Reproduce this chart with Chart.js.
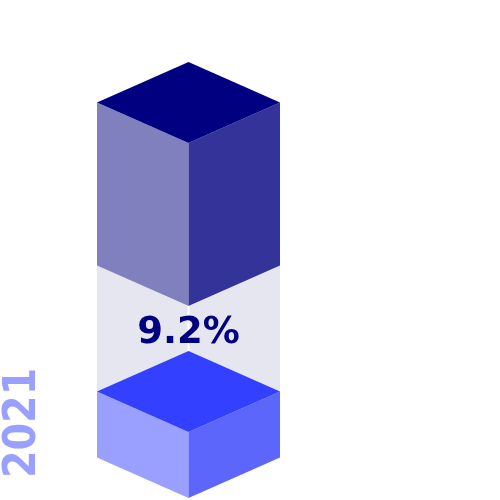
<!DOCTYPE html>
<html>
<head>
<meta charset="utf-8">
<script src="https://cdn.jsdelivr.net/npm/chart.js@4"></script>
<style>
  html, body { margin: 0; padding: 0; background: #fff; }
  #chart { display: block; }
</style>
</head>
<body>
<canvas id="chart" width="500" height="500"></canvas>
<script>
// data
const categories = ['2021'];
const lowerValues = [18.6];
const gapValues = [35.5];
const upperValues = [45.9];
const gapLabels = ['9.2%'];

// face colours for each stacked segment
const cubeColors = {
    lower: { top: '#3340ff', left: '#99a0ff', right: '#5c66fa' },
    gap: { left: '#e6e6f0', right: '#e6e6f0' },
    upper: { top: '#000080', left: '#8080bf', right: '#333399' }
};

function poly(ctx, pts, color) {
    ctx.beginPath();
    ctx.moveTo(pts[0][0], pts[0][1]);
    for (let i = 1; i < pts.length; i++) ctx.lineTo(pts[i][0], pts[i][1]);
    ctx.closePath();
    ctx.fillStyle = color;
    ctx.fill();
}

function drawCube(ctx, x, top, bottom, half, d, colors, split) {
    const s = split || 0;
    poly(ctx, [[x - half, top - d], [x - s, top], [x - s, bottom], [x - half, bottom - d]], colors.left);
    poly(ctx, [[x + s, top], [x + half, top - d], [x + half, bottom - d], [x + s, bottom]], colors.right);
    if (colors.top) {
        poly(ctx, [[x, top], [x - half, top - d], [x, top - 2 * d], [x + half, top - d]], colors.top);
    }
}

const isoPlugin = {
    id: 'isoCubes',
    afterDatasetsDraw(chart) {
        const ctx = chart.ctx;
        const keys = ['lower', 'gap', 'upper'];
        // gap faces go behind, then the two cubes
        const order = [1, 0, 2];
        ctx.save();
        order.forEach(i => {
            const meta = chart.getDatasetMeta(i);
            meta.data.forEach((bar, j) => {
                const p = bar.getProps(['x', 'y', 'base', 'width'], true);
                const half = p.width / 2;
                const d = half * 0.443;
                const key = keys[i];
                drawCube(ctx, p.x, p.y, p.base, half, d, cubeColors[key], key === 'gap' ? 1 : 0);
            });
        });

        // percentage label in the gap
        const gapMeta = chart.getDatasetMeta(1);
        gapMeta.data.forEach((bar, j) => {
            const p = bar.getProps(['x', 'y', 'base', 'width'], true);
            const d = p.width / 2 * 0.443;
            ctx.font = 'bold 37px "DejaVu Sans", Verdana, sans-serif';
            ctx.fillStyle = '#000080';
            ctx.textAlign = 'center';
            ctx.textBaseline = 'alphabetic';
            ctx.fillText(gapLabels[j], p.x, (p.y + p.base) / 2 - d + 15);
        });

        // category label, rotated
        const area = chart.chartArea;
        ctx.translate(35, area.bottom - 20);
        ctx.rotate(-Math.PI / 2);
        ctx.font = 'bold 44px "DejaVu Sans Condensed", "DejaVu Sans", sans-serif';
        ctx.fillStyle = '#99a0ff';
        ctx.textAlign = 'left';
        ctx.textBaseline = 'alphabetic';
        ctx.fillText(categories[0], 0, 0);
        ctx.restore();
    }
};

const transparent = 'rgba(0,0,0,0)';

new Chart(document.getElementById('chart'), {
    type: 'bar',
    data: {
        labels: categories,
        datasets: [
            { label: 'lower', data: lowerValues, backgroundColor: transparent },
            { label: 'gap', data: gapValues, backgroundColor: transparent },
            { label: 'upper', data: upperValues, backgroundColor: transparent }
        ]
    },
    options: {
        responsive: false,
        animation: false,
        layout: { padding: { top: 143, bottom: 2, left: 97, right: 220 } },
        datasets: { bar: { barPercentage: 1, categoryPercentage: 1 } },
        scales: {
            x: { display: false, stacked: true },
            y: { display: false, stacked: true, min: 0, max: 100 }
        },
        plugins: {
            legend: { display: false },
            tooltip: { enabled: false }
        }
    },
    plugins: [isoPlugin]
});
</script>
</body>
</html>
